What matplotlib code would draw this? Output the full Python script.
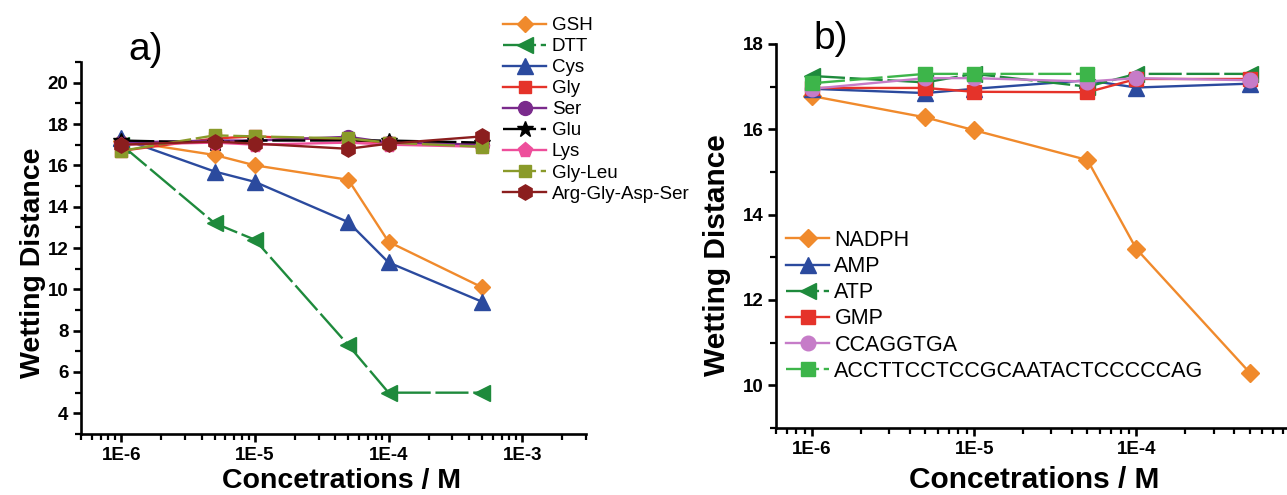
import numpy as np
import matplotlib
matplotlib.use("Agg")
import matplotlib.pyplot as plt
from matplotlib.ticker import FixedLocator, LogLocator, MultipleLocator, NullFormatter

plt.rcParams["font.family"] = ["Liberation Sans", "DejaVu Sans"]

# Data
conc = [1e-6, 5e-6, 1e-5, 5e-5, 1e-4, 5e-4]

# panel a)
gsh = [17.2, 16.5, 16.0, 15.3, 12.3, 10.1]
dtt = [17.0, 13.2, 12.4, 7.3, 5.0, 5.0]
cys = [17.3, 15.7, 15.2, 13.25, 11.3, 9.4]
gly = [16.7, 17.3, 17.4, 17.2, 17.1, 17.0]
ser = [17.1, 17.2, 17.2, 17.38, 17.1, 17.0]
glu = [17.2, 17.1, 17.2, 17.2, 17.2, 17.1]
lys = [17.0, 17.1, 17.0, 17.1, 17.0, 16.9]
gly_leu = [16.7, 17.45, 17.4, 17.3, 17.1, 16.9]
rgds = [17.0, 17.15, 17.05, 16.8, 17.05, 17.4]

# panel b)
nadph = [16.78, 16.28, 15.98, 15.28, 13.2, 10.3]
amp = [16.95, 16.85, 16.95, 17.15, 16.98, 17.07]
atp = [17.25, 17.1, 17.3, 17.0, 17.3, 17.3]
gmp = [16.97, 16.97, 16.88, 16.87, 17.18, 17.18]
ccaggtga = [16.95, 17.2, 17.2, 17.12, 17.2, 17.15]
acctt = [17.08, 17.3, 17.3, 17.3, np.nan, np.nan]

ORANGE = "#F08A2C"
GREEN = "#1E8A3C"
BLUE = "#2B4A9E"
RED = "#E5332A"
PURPLE = "#7A2A8C"
PINK = "#EE4E9B"
OLIVE = "#8A9A2A"
MAROON = "#8B1E1E"
LILAC = "#C67CC8"
LIGHTGREEN = "#3DB54A"

DASH = (0, (14, 2))

series_a = [
    ("GSH", gsh, ORANGE, "D", 8, "-"),
    ("DTT", dtt, GREEN, "<", 11, DASH),
    ("Cys", cys, BLUE, "^", 11, "-"),
    ("Gly", gly, RED, "s", 9, "-"),
    ("Ser", ser, PURPLE, "o", 10, "-"),
    ("Glu", glu, "black", "*", 12, DASH),
    ("Lys", lys, PINK, "p", 11, "-"),
    ("Gly-Leu", gly_leu, OLIVE, "s", 9, DASH),
    ("Arg-Gly-Asp-Ser", rgds, MAROON, "h", 11, "-"),
]

series_b = [
    ("NADPH", nadph, ORANGE, "D", 9.5, "-"),
    ("AMP", amp, BLUE, "^", 11.5, "-"),
    ("ATP", atp, GREEN, "<", 11.5, DASH),
    ("GMP", gmp, RED, "s", 10, "-"),
    ("CCAGGTGA", ccaggtga, LILAC, "o", 10.5, "-"),
    ("ACCTTCCTCCGCAATACTCCCCCAG", acctt, LIGHTGREEN, "s", 10, DASH),
]

W, H = 1287, 495
fig = plt.figure(figsize=(W / 100, H / 100), dpi=100)


def px_axes(left, top, right, bottom):
    return fig.add_axes([left / W, 1 - bottom / H, (right - left) / W, (bottom - top) / H])


ax1 = px_axes(81, 62, 586, 434)
ax2 = px_axes(776, 44, 1287, 428)


def style(ax, ylim, xlim, yticks):
    ax.set_xscale("log")
    ax.set_xlim(*xlim)
    ax.set_ylim(*ylim)
    for s in ["top", "right"]:
        ax.spines[s].set_visible(False)
    for s in ["left", "bottom"]:
        ax.spines[s].set_linewidth(1.9)
    ax.xaxis.set_major_locator(FixedLocator([1e-6, 1e-5, 1e-4, 1e-3]))
    ax.set_xticklabels(["1E-6", "1E-5", "1E-4", "1E-3"])
    ax.xaxis.set_minor_locator(LogLocator(base=10, subs=np.arange(2, 10)))
    ax.xaxis.set_minor_formatter(NullFormatter())
    ax.set_yticks(yticks)
    ax.yaxis.set_minor_locator(MultipleLocator(1))
    ax.tick_params(which="major", direction="out", length=6, width=1.9,
                   labelsize=13.5, pad=3)
    ax.tick_params(which="minor", direction="out", length=4, width=1.6)
    for lab in ax.get_xticklabels() + ax.get_yticklabels():
        lab.set_fontweight("bold")


style(ax1, (3, 21), (5e-7, 3e-3), [4, 6, 8, 10, 12, 14, 16, 18, 20])
style(ax2, (9, 18), (6e-7, 8.5e-4), [10, 12, 14, 16, 18])

for name, vals, col, mk, ms, ls in series_a:
    ax1.plot(conc, vals, color=col, marker=mk, markersize=ms, linestyle=ls,
             linewidth=1.7, label=name, clip_on=False)

for name, vals, col, mk, ms, ls in series_b:
    ax2.plot(conc, vals, color=col, marker=mk, markersize=ms, linestyle=ls,
             linewidth=1.7, label=name, clip_on=False)

# axis labels
ax1.set_ylabel("Wetting Distance", fontsize=20.5, fontweight="bold")
ax1.yaxis.set_label_coords((46 - 81) / 505, (434 - 263) / 372)
ax1.set_xlabel("Concetrations / M", fontsize=20.5, fontweight="bold")
ax1.xaxis.set_label_coords((342 - 81) / 505, (434 - 468) / 372)

ax2.set_ylabel("Wetting Distance", fontsize=21.5, fontweight="bold")
ax2.yaxis.set_label_coords((731 - 776) / 511, (428 - 255) / 384)
ax2.set_xlabel("Concetrations / M", fontsize=21.5, fontweight="bold")
ax2.xaxis.set_label_coords((1034 - 776) / 511, (428 - 466) / 384)

# panel letters
fig.text(146 / W, 1 - 50 / H, "a)", fontsize=28, ha="center", va="center")
fig.text(831 / W, 1 - 39 / H, "b)", fontsize=28, ha="center", va="center")

# legends
fig.legend(*ax1.get_legend_handles_labels(), loc="upper left",
           bbox_to_anchor=(503 / W, 1 - 17 / H), frameon=False, fontsize=13.5,
           borderpad=0, borderaxespad=0, handlelength=2.3, handletextpad=0.3,
           labelspacing=0.21)
fig.legend(*ax2.get_legend_handles_labels(), loc="upper left",
           bbox_to_anchor=(786 / W, 1 - 230 / H), frameon=False, fontsize=15.5,
           borderpad=0, borderaxespad=0, handlelength=2.0, handletextpad=0.25,
           labelspacing=0.24)

fig.savefig("out.png", dpi=100, facecolor="white")
